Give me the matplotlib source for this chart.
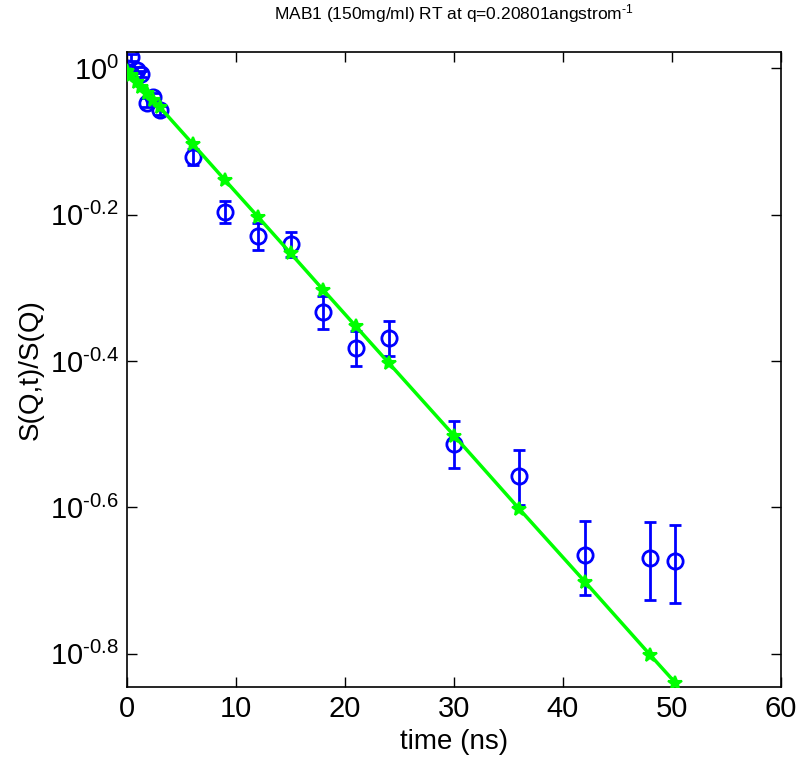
import numpy as np
import matplotlib
matplotlib.use("Agg")
import matplotlib.pyplot as plt
from matplotlib.ticker import FixedLocator, NullLocator

plt.rcParams["font.family"] = ["Liberation Sans", "DejaVu Sans"]
plt.rcParams["mathtext.fontset"] = "custom"
plt.rcParams["mathtext.rm"] = "Liberation Sans"
plt.rcParams["mathtext.it"] = "Liberation Sans:italic"

# measured S(Q,t)/S(Q)
time_ns = [0.0, 0.35, 0.9, 1.3, 1.8, 2.4, 3.0, 6, 9, 12, 15, 18, 21, 24, 30, 36, 42, 48, 50.3]
sqt = [1.000, 1.035, 0.995, 0.982, 0.898, 0.914, 0.877, 0.757, 0.636, 0.590, 0.575,
       0.464, 0.415, 0.428, 0.307, 0.277, 0.216, 0.214, 0.212]
sqt_err = [0.010, 0.012, 0.010, 0.010, 0.012, 0.012, 0.012, 0.019, 0.022, 0.025, 0.023,
           0.024, 0.023, 0.023, 0.023, 0.024, 0.025, 0.026, 0.026]

# fitted curve
fit_time = [0.0, 0.35, 0.9, 1.3, 1.8, 2.4, 3.0, 6, 9, 12, 15, 18, 21, 24, 30, 36, 42, 48, 50.3]
fit_sqt = [0.992, 0.979, 0.959, 0.944, 0.926, 0.905, 0.885, 0.789, 0.703, 0.627, 0.559,
           0.498, 0.444, 0.396, 0.315, 0.250, 0.199, 0.158, 0.1448]

ytick_exp = ["-0.8", "-0.6", "-0.4", "-0.2", "0"]

fig = plt.figure(figsize=(8.0, 7.58), dpi=100)
ax = fig.add_axes([0.159, 0.094, 0.817, 0.837])

ax.errorbar(time_ns, sqt, yerr=sqt_err, fmt="o", color="#0000ff",
            mfc="none", mec="#0000ff", ms=11, mew=2.0, elinewidth=2.0,
            capsize=4, capthick=2.0, zorder=2)
ax.plot(fit_time, fit_sqt, "-*", color="#00ff00", lw=2.5, ms=10, mew=1.5, zorder=3)

ax.set_yscale("log")
ax.set_xlim(0, 60)
ax.set_ylim(0.1429, 1.052)

ax.xaxis.set_major_locator(FixedLocator([0, 10, 20, 30, 40, 50, 60]))
ax.yaxis.set_major_locator(FixedLocator([10 ** float(e) for e in ytick_exp]))
ax.yaxis.set_minor_locator(NullLocator())
ax.set_yticklabels([r"$\mathregular{10^{\text{%s}}}$" % e for e in ytick_exp])

ax.tick_params(axis="both", which="major", direction="in", length=7, width=1.0,
               labelsize=21, top=True, right=True, pad=6)
for sp in ax.spines.values():
    sp.set_linewidth(1.2)

ax.set_xlabel("time (ns)", fontsize=20, labelpad=4)
ax.set_ylabel("S(Q,t)/S(Q)", fontsize=20, labelpad=4)
ax.set_title(r"MAB1 (150mg/ml) RT at q=0.20801angstrom$^{\mathregular{\text{-1}}}$",
             fontsize=12.5, pad=24)

fig.savefig("out.png", dpi=100)
